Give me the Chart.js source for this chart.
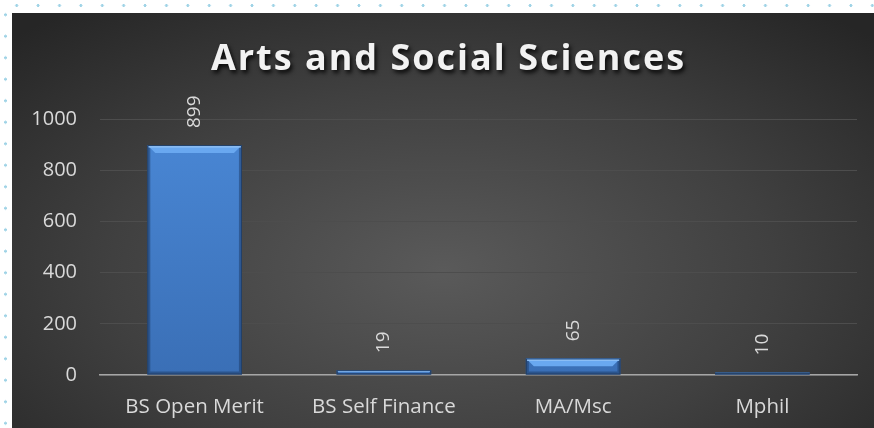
<!DOCTYPE html>
<html>
<head>
<meta charset="utf-8">
<script src="https://cdn.jsdelivr.net/npm/chart.js@4.4.1/dist/chart.umd.min.js"></script>
<style>
  html, body { margin: 0; padding: 0; background: #fff; }
  body { width: 874px; height: 428px; position: relative; overflow: hidden; }
  .dots-top { position: absolute; left: 6.3px; top: 2.5px; width: 868px; height: 5px;
    background-image: radial-gradient(circle, #9fd3e6 1.3px, transparent 1.7px);
    background-size: 21.4px 5px; }
  .dots-left { position: absolute; left: 2.5px; top: 4.25px; width: 5px; height: 424px;
    background-image: radial-gradient(circle, #9fd3e6 1.3px, transparent 1.7px);
    background-size: 5px 21.5px; }
  .panel { position: absolute; left: 12px; top: 13px; width: 862px; height: 415px;
    background: radial-gradient(ellipse 70% 80% at 50% 62%, #5a5a5a 0%, #404040 55%, #262626 100%); }
</style>
</head>
<body>
<div class="dots-top"></div>
<div class="dots-left"></div>
<div class="panel"><canvas id="chart" width="862" height="415"></canvas></div>
<script>
const chartTitle = 'Arts and Social Sciences';
const categories = ['BS Open Merit', 'BS Self Finance', 'MA/Msc', 'Mphil'];
const students = [899, 19, 65, 10];
const yTicks = [0, 200, 400, 600, 800, 1000];

const FONT = '"Open Sans", "DejaVu Sans", sans-serif';

// shadow + letter spacing on the title block (title sits a bit right of centre)
const titleShadow = {
  id: 'titleShadow',
  afterLayout(chart) {
    const tb = chart.titleBlock;
    if (!tb || tb._shadowed) return;
    const orig = tb.draw.bind(tb);
    tb.draw = function () {
      const ctx = chart.ctx;
      ctx.save();
      ctx.translate(14, 0);
      ctx.shadowColor = 'rgba(0,0,0,0.85)';
      ctx.shadowBlur = 4;
      ctx.shadowOffsetX = 2;
      ctx.shadowOffsetY = 3;
      ctx.letterSpacing = '2px';
      orig();
      ctx.restore();
    };
    tb._shadowed = true;
  }
};

// bevelled look on the bars, Excel style
const barBevel = {
  id: 'barBevel',
  afterDatasetsDraw(chart) {
    const ctx = chart.ctx;
    chart.getDatasetMeta(0).data.forEach(bar => {
      const l = bar.x - bar.width / 2, r = bar.x + bar.width / 2;
      const t = bar.y, b = bar.base;
      const h = b - t;
      if (h <= 0) return;
      const s = Math.min(8, h / 2);
      const e = Math.min(3, h / 3);
      ctx.save();
      // side and bottom shading
      ctx.fillStyle = 'rgba(25,50,90,0.45)';
      ctx.fillRect(l, t, e, h);
      ctx.fillRect(r - e, t, e, h);
      ctx.fillRect(l + e, b - e, r - l - 2 * e, e);
      // light top bevel
      ctx.fillStyle = '#69a8f0';
      ctx.beginPath();
      ctx.moveTo(l, t); ctx.lineTo(r, t); ctx.lineTo(r - s, t + s); ctx.lineTo(l + s, t + s);
      ctx.closePath(); ctx.fill();
      ctx.fillStyle = '#8fc0f6';
      ctx.fillRect(l + 1, t + 1, r - l - 2, Math.min(1.5, s / 3));
      ctx.strokeStyle = '#223f66';
      ctx.lineWidth = 1;
      ctx.strokeRect(l + 0.5, t + 0.5, r - l - 1, h - 1);
      ctx.restore();
    });
  }
};

// rotated value labels above each bar
const rotatedLabels = {
  id: 'rotatedLabels',
  afterDatasetsDraw(chart) {
    const ctx = chart.ctx;
    ctx.save();
    ctx.font = '19px ' + FONT;
    ctx.fillStyle = '#d9d9d9';
    ctx.textAlign = 'left';
    ctx.textBaseline = 'middle';
    chart.getDatasetMeta(0).data.forEach((bar, i) => {
      ctx.save();
      ctx.translate(bar.x, bar.y - 17);
      ctx.rotate(-Math.PI / 2);
      ctx.fillText(String(students[i]), 0, 0);
      ctx.restore();
    });
    ctx.restore();
  }
};

new Chart(document.getElementById('chart'), {
  type: 'bar',
  data: {
    labels: categories,
    datasets: [{
      data: students,
      backgroundColor: ctx => {
        const area = ctx.chart.chartArea;
        if (!area) return '#4079c4';
        const g = ctx.chart.ctx.createLinearGradient(0, area.top, 0, area.bottom);
        g.addColorStop(0, '#4a88d6');
        g.addColorStop(1, '#3a6fb6');
        return g;
      },
      borderWidth: 0,
      categoryPercentage: 1,
      barPercentage: 0.5
    }]
  },
  options: {
    responsive: false,
    animation: false,
    layout: { padding: { left: 0, right: 17, top: 0, bottom: 0 } },
    plugins: {
      legend: { display: false },
      tooltip: { enabled: false },
      title: {
        display: true,
        text: chartTitle,
        color: '#f2f2f2',
        font: { family: FONT, size: 36, weight: 'bold' },
        padding: { top: 25, bottom: 38 }
      }
    },
    scales: {
      x: {
        grid: { display: false },
        border: { display: true, color: '#a6a6a6', width: 1.5 },
        ticks: { color: '#d9d9d9', font: { family: FONT, size: 20.5 }, padding: 12 },
        afterFit: s => { s.height = 53; }
      },
      y: {
        min: yTicks[0],
        max: yTicks[yTicks.length - 1],
        grid: { color: '#4d4d4d', lineWidth: 1, drawTicks: false },
        border: { display: false },
        ticks: {
          stepSize: yTicks[1] - yTicks[0],
          callback: v => String(v),
          color: '#d9d9d9',
          font: { family: FONT, size: 20 },
          padding: 23
        },
        afterFit: s => { s.width = 88; }
      }
    }
  },
  plugins: [titleShadow, barBevel, rotatedLabels]
});
</script>
</body>
</html>
